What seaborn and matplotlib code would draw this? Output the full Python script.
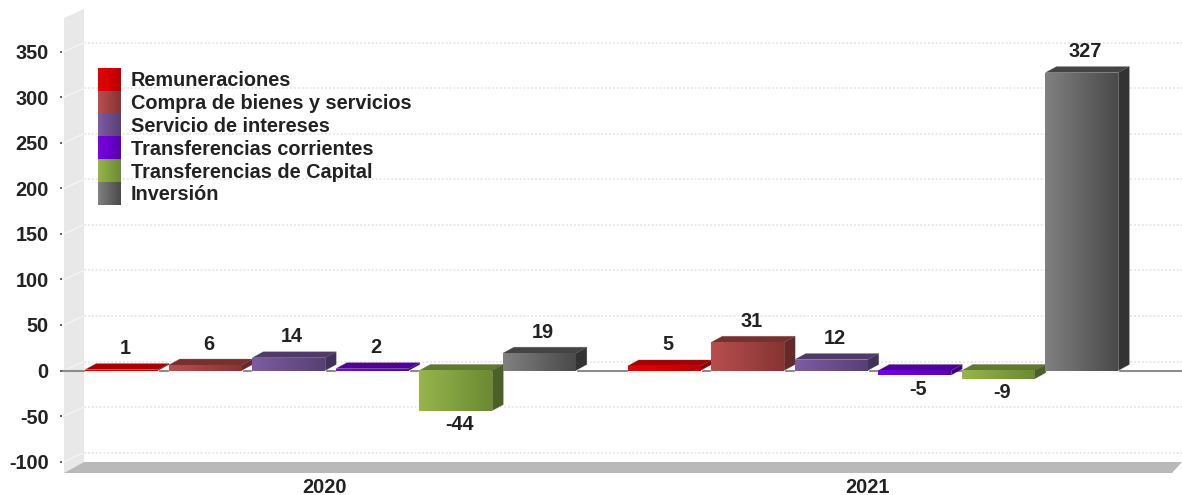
import numpy as np
import pandas as pd
import matplotlib.pyplot as plt
import seaborn as sns
from matplotlib.colors import LinearSegmentedColormap
from matplotlib.patches import Polygon
from matplotlib.transforms import ScaledTranslation

years = ['2020', '2021']
series = ['Remuneraciones', 'Compra de bienes y servicios', 'Servicio de intereses',
          'Transferencias corrientes', 'Transferencias de Capital', 'Inversión']
values_2020 = [1, 6, 14, 2, -44, 19]
values_2021 = [5, 31, 12, -5, -9, 327]
y_ticks = [-100, -50, 0, 50, 100, 150, 200, 250, 300, 350]

# left and right shade of each front face
light = ['#e60000', '#b84e4e', '#7d5ca3', '#7a00e6', '#97b54b', '#808080']
dark = ['#bd0000', '#873434', '#574075', '#5a00b0', '#6b8a33', '#4a4a4a']
top_face = ['#a80000', '#7a2f2f', '#4f3a6b', '#4f009c', '#5f7a2e', '#444444']
side_face = ['#8a0000', '#662828', '#42315a', '#3f007d', '#4a6024', '#333333']

# pixel layout of the picture
W, H = 1182, 495
AX_L, AX_R, AX_T, AX_B = 62, 1182, 9, 473
X_ZERO, X_UNIT = 330.5, 542.5   # pixel of category 0, pixels per category
Y_ZERO, Y_UNIT = 370.5, 0.911   # pixel of value 0, pixels per value
DEPTH_X, DEPTH_Y = 11, 6        # bar depth
WALL_X, WALL_Y = 21, 9          # wall and floor depth
FONT = 14.3


def dx(px):
    return (px - X_ZERO) / X_UNIT


def dy(py):
    return (Y_ZERO - py) / Y_UNIT


sns.set_style('white')
plt.rcParams['font.family'] = ['Liberation Sans', 'DejaVu Sans']
plt.rcParams['font.weight'] = 'bold'
plt.rcParams['axes.unicode_minus'] = False

df = pd.DataFrame({
    'year': np.repeat(years, len(series)),
    'serie': series * len(years),
    'value': values_2020 + values_2021,
})

fig = plt.figure(figsize=(W / 100, H / 100), dpi=100, facecolor='white')
ax = fig.add_axes([AX_L / W, 1 - AX_B / H, (AX_R - AX_L) / W, (AX_B - AX_T) / H])

sns.barplot(data=df, x='year', y='value', hue='serie', hue_order=series, order=years,
            palette=dict(zip(series, light)), width=0.924, gap=0.127, dodge=True,
            errorbar=None, legend=False, ax=ax, zorder=5)

bars = list(ax.containers)
ax.set_xlim(dx(AX_L), dx(AX_R))
ax.set_ylim(dy(AX_B), dy(AX_T))

# wall and floor
wall = [(64, 18), (84, 9), (84, 462), (64, 473)]
floor = [(64, 473), (84, 462), (1182, 462), (1172, 473)]
ax.add_patch(Polygon([(dx(a), dy(b)) for a, b in wall], fc='#e8e8e8', ec='none', zorder=1))
ax.add_patch(Polygon([(dx(a), dy(b)) for a, b in floor], fc='#b9b9b9', ec='none', zorder=1))

# grid on the back wall, with the slanted part on the side wall
for v in y_ticks:
    ax.plot([dx(84), dx(1182)], [v + WALL_Y / Y_UNIT] * 2, color='#e9e9e9', lw=1.4, ls=(0, (1, 1)), zorder=2)
    ax.plot([dx(64), dx(84)], [v, v + WALL_Y / Y_UNIT], color='#f4f4f4', lw=1.0, zorder=2)
ax.plot([dx(56), dx(1182)], [0, 0], color='#8c8c8c', lw=1.5, zorder=3)

cells = np.linspace(0, 1, 64).reshape(1, -1)
z = 5
for i, cont in enumerate(bars):
    cmap = LinearSegmentedColormap.from_list(series[i], [light[i], dark[i]])
    for rect in cont:
        z += 0.1
        x0, x1 = rect.get_x(), rect.get_x() + rect.get_width()
        y0, y1 = sorted([rect.get_y(), rect.get_y() + rect.get_height()])
        ddx, ddy = DEPTH_X / X_UNIT, DEPTH_Y / Y_UNIT
        ax.add_patch(Polygon([(x0, y1), (x1, y1), (x1 + ddx, y1 + ddy), (x0 + ddx, y1 + ddy)],
                             fc=top_face[i], ec='#55555555', lw=0.5, zorder=z))
        ax.add_patch(Polygon([(x1, y0), (x1, y1), (x1 + ddx, y1 + ddy), (x1 + ddx, y0 + ddy)],
                             fc=side_face[i], ec='#55555555', lw=0.5, zorder=z))
        ax.imshow(cells, cmap=cmap, extent=(x0, x1, y0, y1), aspect='auto', zorder=z + 0.01)
        val = rect.get_y() + rect.get_height()
        ax.annotate(f'{val:.0f}', xy=((x0 + x1) / 2, val), xytext=(3.5, 21 if val >= 0 else -14),
                    textcoords='offset pixels', ha='center', va='center',
                    fontsize=FONT, color='#222222', zorder=30)

# legend swatches and labels, stacked with no gap
for i, name in enumerate(series):
    top, bottom = 68 + i * 22.8, 68 + (i + 1) * 22.8
    cmap = LinearSegmentedColormap.from_list(name, [light[i], dark[i]])
    ax.imshow(cells, cmap=cmap, extent=(dx(98), dx(121), dy(bottom), dy(top)), aspect='auto', zorder=20)
    ax.text(dx(131), dy((top + bottom) / 2 + 1.5), name, ha='left', va='center',
            fontsize=FONT, color='#222222', zorder=20)

ax.set_xlim(dx(AX_L), dx(AX_R))
ax.set_ylim(dy(AX_B), dy(AX_T))
ax.set_yticks(y_ticks)
ax.set_xlabel('')
ax.set_ylabel('')
ax.tick_params(axis='y', length=1.5, width=1.2, color='#444444', pad=8, labelsize=FONT, labelcolor='#222222', left=True)
ax.tick_params(axis='x', length=0, pad=3.5, labelsize=FONT, labelcolor='#222222')
shift = ScaledTranslation(-6 / 100, 0, fig.dpi_scale_trans)
for lab in ax.get_xticklabels():
    lab.set_transform(lab.get_transform() + shift)
sns.despine(ax=ax, left=True, bottom=True)
ax.patch.set_visible(False)

fig.savefig('out.png', dpi=100)
